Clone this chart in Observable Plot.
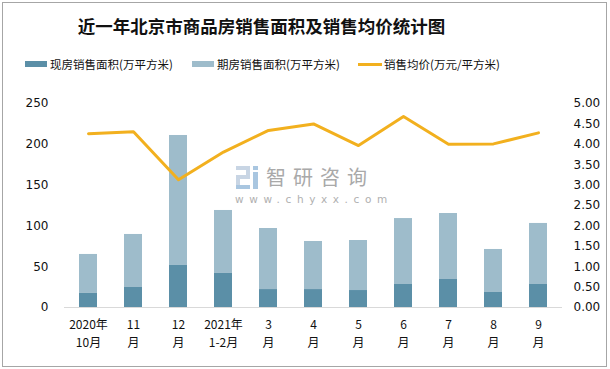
<!DOCTYPE html>
<html><head><meta charset="utf-8">
<script src="https://cdn.jsdelivr.net/npm/d3@7"></script>
<script src="https://cdn.jsdelivr.net/npm/@observablehq/plot@0.6"></script>
<style>
body{margin:0;background:#fff;}
#wrap{position:relative;width:610px;height:369px;overflow:hidden;font-family:"Noto Sans CJK SC",sans-serif;background:#fff;}
#frame{position:absolute;left:2px;top:2px;width:605px;height:365px;border:1px solid #a6a6a6;box-sizing:border-box;pointer-events:none;}
#title{position:absolute;left:0;top:13px;width:523px;text-align:center;font-size:17.5px;font-weight:bold;color:#111;line-height:26px;white-space:nowrap;}
.lg{position:absolute;top:56px;height:16px;line-height:16px;font-size:11.5px;color:#111;white-space:nowrap;}
.sw{position:absolute;}
#chart{position:absolute;left:0;top:0;}
#wm1{position:absolute;left:266px;top:167px;font-size:20px;color:#a9a9a9;letter-spacing:7px;line-height:20px;white-space:nowrap;}
#wm2{position:absolute;left:235px;top:193px;font-size:10.5px;color:#b0b0b0;letter-spacing:5.6px;line-height:12px;font-family:"DejaVu Sans",sans-serif;white-space:nowrap;}
.lo{position:absolute;background:#c8d5e4;}
</style>
</head><body>
<div id="wrap">
  <div id="chart"></div>
  <div class="lo" style="left:236px;top:166px;width:14px;height:4px"></div>
  <div class="lo" style="left:246px;top:166px;width:4px;height:12px"></div>
  <div class="lo" style="left:236px;top:175px;width:14px;height:4px"></div>
  <div class="lo" style="left:236px;top:175px;width:4px;height:14px"></div>
  <div class="lo" style="left:236px;top:185px;width:14px;height:4px;background:#a9c6e0"></div>
  <div class="lo" style="left:253px;top:166px;width:5px;height:4px;background:#a9c6e0"></div>
  <div class="lo" style="left:253px;top:172px;width:5px;height:17px;background:#a9c6e0"></div>
  <div id="wm1">智研咨询</div>
  <div id="wm2">www.chyxx.com</div>
  <div id="title">近一年北京市商品房销售面积及销售均价统计图</div>
  <div class="sw" style="left:25px;top:61px;width:22px;height:6px;background:#5b8fa7"></div>
  <div class="lg" style="left:50px">现房销售面积(万平方米)</div>
  <div class="sw" style="left:192px;top:61px;width:22px;height:6px;background:#9ebccb"></div>
  <div class="lg" style="left:217px">期房销售面积(万平方米)</div>
  <div class="sw" style="left:358px;top:63px;width:24px;height:3px;background:#f2b01e"></div>
  <div class="lg" style="left:384px">销售均价(万元/平方米)</div>
  <div id="frame"></div>
</div>
<script>
const labelTop = ["2020年", "11", "12", "2021年", "3", "4", "5", "6", "7", "8", "9"];
const labelBottom = ["10月", "月", "月", "1-2月", "月", "月", "月", "月", "月", "月", "月"];
const spotArea = [17.2, 24.5, 51.5, 41.7, 22.0, 22.0, 20.8, 28.2, 34.3, 18.4, 28.2];
const futureArea = [47.8, 65.0, 159.3, 77.2, 74.8, 58.9, 61.3, 80.8, 80.9, 52.7, 74.8];
const avgPrice = [4.26, 4.31, 3.13, 3.81, 4.34, 4.50, 3.97, 4.68, 4.00, 4.01, 4.28];
const leftTicks = [0, 50, 100, 150, 200, 250];
const rightTicks = [0, 0.5, 1, 1.5, 2, 2.5, 3, 3.5, 4, 4.5, 5];
const seriesNames = ["现房销售面积(万平方米)", "期房销售面积(万平方米)"];
const colors = ["#5b8fa7", "#9ebccb"];
const lineColor = "#f2b01e";

const months = labelTop.map((t, i) => t + labelBottom[i]);
const topOf = new Map(months.map((m, i) => [m, labelTop[i]]));
const bottomOf = new Map(months.map((m, i) => [m, labelBottom[i]]));
const ratio = leftTicks[leftTicks.length - 1] / rightTicks[rightTicks.length - 1];
const rows = [];
months.forEach((m, i) => rows.push({month: m, type: seriesNames[0], value: spotArea[i]}));
months.forEach((m, i) => rows.push({month: m, type: seriesNames[1], value: futureArea[i]}));
const priceRows = months.map((m, i) => ({month: m, v: avgPrice[i] * ratio}));

const chart = Plot.plot({
  width: 610, height: 369,
  marginTop: 103, marginBottom: 62, marginLeft: 64, marginRight: 48,
  style: {fontFamily: "DejaVu Sans, sans-serif", fontSize: "12px", color: "#111", background: "transparent", overflow: "visible"},
  x: {type: "band", domain: months, paddingInner: 0.6, paddingOuter: 0.3, axis: null},
  y: {domain: [0, 250], axis: null},
  color: {domain: seriesNames, range: colors},
  marks: [
    Plot.barY(rows, {x: "month", y: "value", fill: "type"}),
    Plot.ruleY([0], {stroke: "#d9d9d9", strokeWidth: 1}),
    Plot.line(priceRows, {x: "month", y: "v", stroke: lineColor, strokeWidth: 3, curve: "linear"}),
    Plot.axisY({ticks: leftTicks, anchor: "left", tickSize: 0, tickPadding: 16, fontSize: 12, label: null}),
    Plot.axisY({ticks: rightTicks.map(t => t * ratio), anchor: "right", tickSize: 0, tickPadding: 11, fontSize: 12, label: null, tickFormat: d => (d / ratio).toFixed(2)}),
    Plot.axisX({anchor: "bottom", tickSize: 0, tickPadding: 13, fontSize: 12, fontFamily: "Noto Sans CJK SC", label: null, tickFormat: d => topOf.get(d)}),
    Plot.axisX({anchor: "bottom", tickSize: 0, tickPadding: 31, fontSize: 12, fontFamily: "Noto Sans CJK SC", label: null, tickFormat: d => bottomOf.get(d)})
  ]
});
document.getElementById("chart").appendChild(chart);
</script>
</body></html>
